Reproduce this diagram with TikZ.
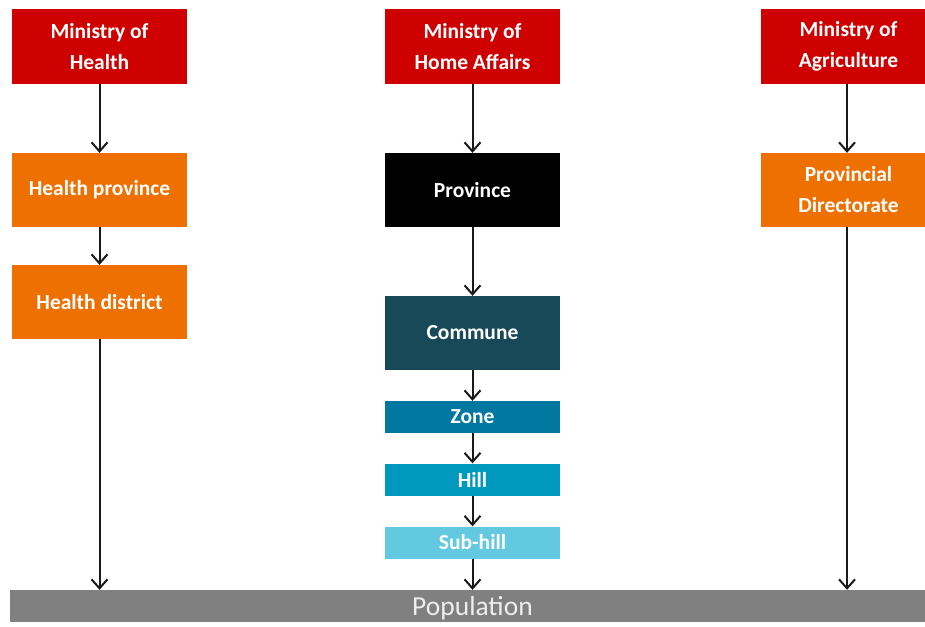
\documentclass[tikz,border=0pt]{standalone}
\usepackage{fontspec}
\setmainfont{Carlito}
\usetikzlibrary{arrows.meta}
\definecolor{ministryred}{RGB}{206,0,0}
\definecolor{unitorange}{RGB}{238,112,0}
\definecolor{communeteal}{RGB}{24,73,88}
\definecolor{zoneblue}{RGB}{0,120,160}
\definecolor{hillblue}{RGB}{0,153,190}
\definecolor{subhillblue}{RGB}{98,201,225}
\definecolor{popgray}{RGB}{128,128,128}
\definecolor{poptext}{RGB}{238,238,238}
\definecolor{linkgray}{RGB}{25,25,25}
\tikzset{
  unit/.style={rectangle, inner sep=0pt, minimum width=175pt, minimum height=74pt,
    text=white, align=center, font=\fontsize{21.5}{31}\selectfont\bfseries},
  thin unit/.style={unit, minimum height=32pt},
  link/.style={draw=linkgray, line width=2pt,
    -{Straight Barb[length=9pt,width=16pt,line width=2pt]}}
}
\begin{document}
\begin{tikzpicture}[x=1pt,y=-1pt]
\useasboundingbox (0,0) rectangle (925,626);

% ministries
\node[unit, fill=ministryred] (moh) at (99.5,46.5) {Ministry of\\Health};
\node[unit, fill=ministryred] (mha) at (472.5,46.5) {Ministry of\\Home Affairs};
\node[unit, fill=ministryred] (mag) at (848.5,46.5) {Ministry of\\Agriculture};

% health line
\node[unit, fill=unitorange] (hprov) at (99.5,190) {Health province};
\node[unit, fill=unitorange] (hdist) at (99.5,302) {Health district};

% home affairs line
\node[unit, fill=black] (prov) at (472.5,190) {Province};
\node[unit, fill=communeteal] (comm) at (472.5,333) {Commune};
\node[thin unit, fill=zoneblue] (zone) at (472.5,417) {Zone};
\node[thin unit, fill=hillblue] (hill) at (472.5,479.5) {Hill};
\node[thin unit, fill=subhillblue] (subhill) at (472.5,542.5) {Sub-hill};

% agriculture line
\node[unit, fill=unitorange] (pdir) at (848.5,190) {Provincial\\Directorate};

% population bar
\node[rectangle, fill=popgray, inner sep=0pt, minimum width=925pt, minimum height=32pt,
  text=poptext, font=\fontsize{27.5}{30}\selectfont] (pop) at (472.5,606) {};
\node[text=poptext, font=\fontsize{27.5}{30}\selectfont, inner sep=0pt] (poplabel)
  at ([yshift=-2pt]pop.center) {Population};

% connectors
\draw[link] (moh.south) -- (hprov.north);
\draw[link] (hprov.south) -- (hdist.north);
\draw[link] (hdist.south) -- (hdist.south |- pop.north);

\draw[link] (mha.south) -- (prov.north);
\draw[link] (prov.south) -- (comm.north);
\draw[link] (comm.south) -- (zone.north);
\draw[link] (zone.south) -- (hill.north);
\draw[link] (hill.south) -- (subhill.north);
\draw[link] (subhill.south) -- (subhill.south |- pop.north);

\draw[link] ([xshift=-1.5pt]mag.south) -- ([xshift=-1.5pt]pdir.north);
\draw[link] ([xshift=-1.5pt]pdir.south) -- ([xshift=-1.5pt]pdir.south |- pop.north);
\end{tikzpicture}
\end{document}
